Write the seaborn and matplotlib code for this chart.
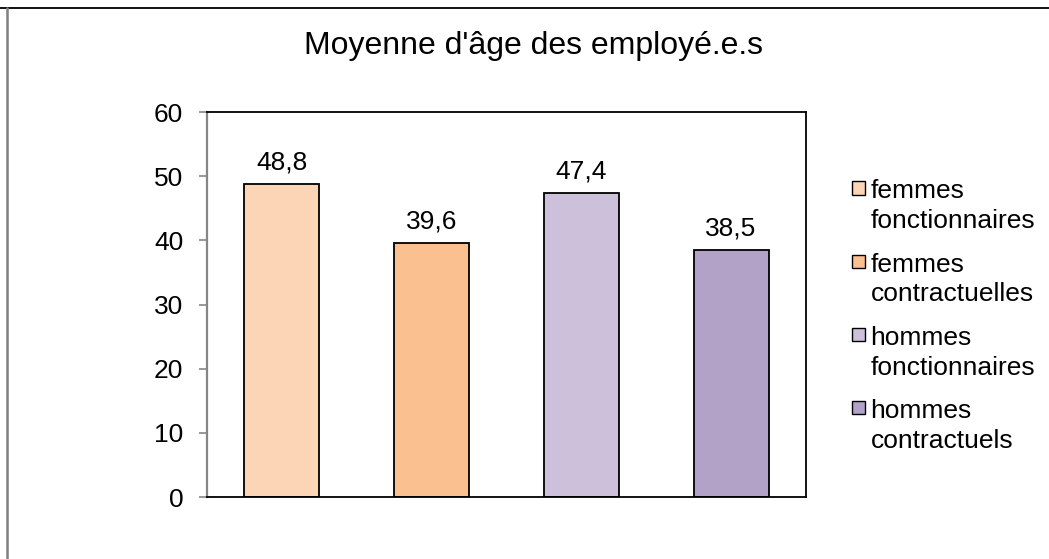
import matplotlib
matplotlib.use("Agg")
import matplotlib.pyplot as plt
from matplotlib.lines import Line2D
from matplotlib.patches import Patch, Rectangle
from matplotlib.legend_handler import HandlerPatch
import seaborn as sns

categories = ["femmes fonctionnaires", "femmes contractuelles",
              "hommes fonctionnaires", "hommes contractuels"]
legend_labels = ["femmes\nfonctionnaires", "femmes\ncontractuelles",
                 "hommes\nfonctionnaires", "hommes\ncontractuels"]
values = [48.8, 39.6, 47.4, 38.5]
colors = ["#FBD5B5", "#FAC090", "#CCC0DA", "#B2A2C7"]
yticks = [0, 10, 20, 30, 40, 50, 60]
title = "Moyenne d'âge des employé.e.s"

FS = 19

sns.set_style("white")
plt.rcParams["font.family"] = ["Liberation Sans", "DejaVu Sans"]
plt.rcParams["text.color"] = "black"
plt.rcParams["ytick.labelcolor"] = "black"

fig = plt.figure(figsize=(10.49, 5.59), dpi=100)
ax = fig.add_axes([0.1973, 0.1109, 0.571, 0.6887])

sns.barplot(x=categories, y=values, hue=categories, palette=colors, saturation=1,
            width=0.5, edgecolor="black", linewidth=1.3, legend=False, ax=ax)

ax.set_xlim(-0.5, 3.5)
ax.set_ylim(0, 60)
ax.set_yticks(yticks)
ax.set_xticks([])
ax.set_xlabel("")
ax.set_ylabel("")
ax.tick_params(axis="y", labelsize=FS, labelcolor="black", length=6, width=1.2,
               color="#868686", direction="out", left=True, pad=11)

for side in ["top", "right", "bottom"]:
    ax.spines[side].set_color("black")
    ax.spines[side].set_linewidth(1.3)
ax.spines["left"].set_color("#868686")
ax.spines["left"].set_linewidth(1.6)

# data labels with French decimal comma
for cont in ax.containers:
    ax.bar_label(cont, labels=[f"{v:.1f}".replace(".", ",") for v in cont.datavalues],
                 fontsize=FS, padding=7, color="black")


# legend square sits next to the first line of a two-line label
def top_square(legend, orig_handle, xdescent, ydescent, width, height, fontsize):
    return Rectangle((-xdescent, -ydescent + 1.3 * fontsize * 0.5 + 1.5), width, width)


handles = [Patch(facecolor=c, edgecolor="black", linewidth=1.0) for c in colors]
leg = ax.legend(handles, legend_labels, loc="upper left", bbox_to_anchor=(1.077, 0.825),
                frameon=False, fontsize=FS, handlelength=0.5, handleheight=0.5,
                handletextpad=0.2, labelspacing=0.74, borderaxespad=0, borderpad=0,
                handler_map={Patch: HandlerPatch(patch_func=top_square)})
for t in leg.get_texts():
    t.set_linespacing(1.3)

fig.text(0.509, 0.918, title, ha="center", va="center", fontsize=23)

# outer frame of the original screenshot (top and left only)
fig.add_artist(Line2D([0, 1], [1 - 8 / 559, 1 - 8 / 559], color="black", linewidth=1.3,
                      transform=fig.transFigure))
fig.add_artist(Line2D([7 / 1049, 7 / 1049], [0, 1 - 8 / 559], color="#7f7f7f", linewidth=1.8,
                      transform=fig.transFigure))

fig.savefig("out.png", dpi=100)
